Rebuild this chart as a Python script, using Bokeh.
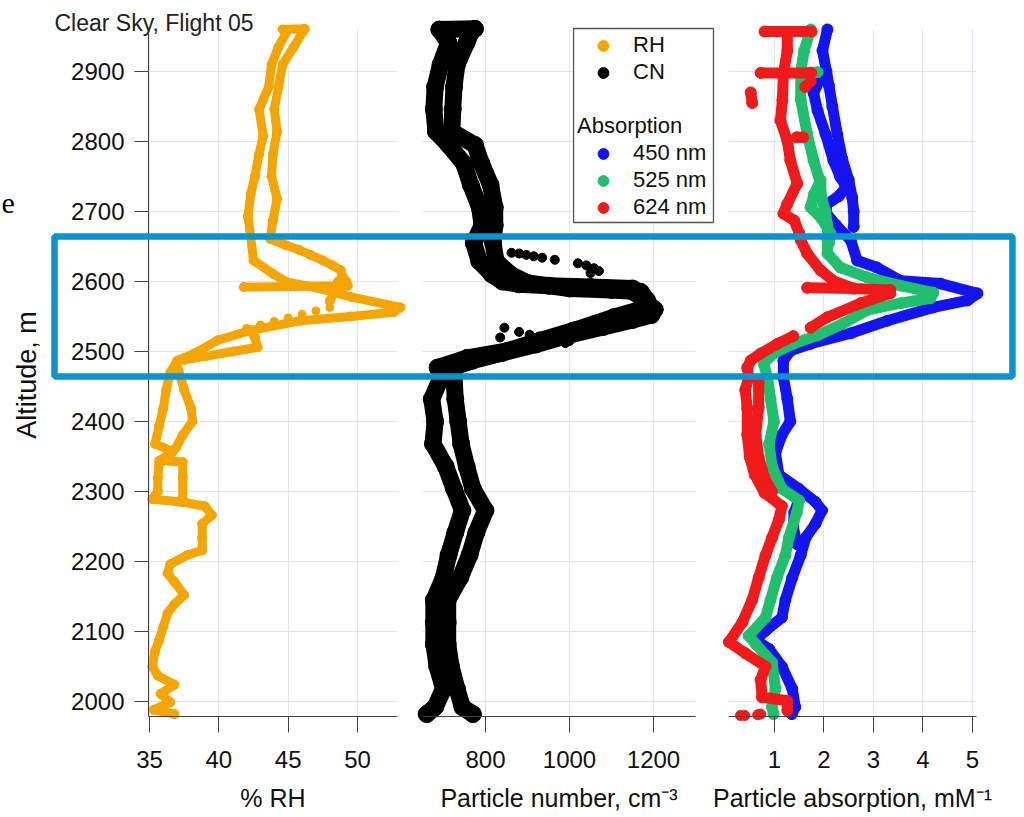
from bokeh.plotting import figure
from bokeh.models import (Range1d, LinearAxis, FixedTicker, Grid, BoxAnnotation,
                          Legend, LegendItem, Label)
from bokeh.embed import file_html
from bokeh.resources import INLINE

# ---------------- data ----------------
alt_ticks = [2000, 2100, 2200, 2300, 2400, 2500, 2600, 2700, 2800, 2900]
rh_ticks = [35, 40, 45, 50]
cn_ticks = [800, 1000, 1200]
abs_ticks = [1, 2, 3, 4, 5]

# RH (%), altitude (m) -- several traced passes
rh_alt = [
    [2961, 2960, 2957, 2935, 2910, 2878, 2846, 2808, 2782, 2750, 2725, 2693, 2663, 2630, 2611,
     2599, 2591, 2578, 2563, 2556, 2550, 2544, 2530, 2516, 2497, 2487, 2470, 2445, 2419, 2394,
     2368, 2357, 2344, 2320, 2300, 2289, 2285, 2279, 2266, 2254, 2234, 2216, 2209, 2196, 2183,
     2171, 2152, 2139, 2126, 2107, 2088, 2072, 2050, 2037, 2024, 2011, 1999, 1988, 1982],
    [2958, 2935, 2910, 2878, 2846, 2814, 2782, 2750, 2718, 2687, 2661, 2652, 2645, 2638, 2630,
     2623, 2616, 2608, 2600, 2594, 2593, 2592],
    [2600, 2585, 2572],
    [2530, 2520, 2506, 2500, 2493, 2488],
    [2480, 2460, 2445, 2419, 2400, 2381, 2362, 2344, 2342, 2320, 2289],
]
rh_val = [
    [46.2, 44.6, 44.9, 44.3, 43.8, 43.6, 42.9, 43.2, 42.9, 42.6, 42.3, 42.1, 42.3, 42.5, 43.9,
     44.9, 47.1, 49.5, 53.1, 52.6, 49.5, 45.9, 42.3, 39.9, 38.2, 37.0, 36.5, 36.2, 36.0, 35.7,
     35.4, 36.7, 35.7, 35.6, 35.6, 35.2, 37.3, 39.0, 39.5, 38.8, 38.8, 38.8, 37.7, 36.5, 36.3,
     36.8, 37.5, 36.8, 36.3, 36.0, 35.7, 35.4, 35.2, 35.6, 36.8, 35.8, 36.5, 35.3, 36.8],
    [46.1, 45.4, 44.6, 44.3, 44.0, 44.2, 43.9, 43.8, 44.2, 43.9, 43.7, 44.8, 45.8, 46.6, 47.5,
     48.2, 48.8, 48.9, 49.2, 49.3, 45.5, 41.8],
    [48.6, 48.3, 48.0],
    [42.3, 42.6, 42.8, 41.0, 39.0, 37.5],
    [37.0, 37.3, 37.5, 38.0, 38.1, 37.4, 36.9, 36.0, 37.4, 37.4, 37.4],
]
rh_dot_alt = [2563, 2558, 2553, 2548, 2543, 2538, 2533]
rh_dot_val = [48.0, 47.0, 46.0, 45.0, 44.0, 43.0, 42.0]

# CN (cm-3): left and right edges of the dense band
cn_alt = [
    [2961, 2960, 2941, 2910, 2878, 2846, 2814, 2795, 2769, 2738, 2706, 2680, 2655, 2629, 2610,
     2600, 2596, 2594, 2592, 2590, 2585, 2573, 2563, 2549, 2530, 2516, 2501, 2491, 2477, 2464,
     2432, 2400, 2368, 2336, 2304, 2273, 2241, 2209, 2177, 2145, 2113, 2082, 2050, 2018, 1992,
     1982],
    [2955, 2941, 2910, 2878, 2846, 2814, 2795, 2769, 2738, 2706, 2680, 2655, 2629, 2610, 2598,
     2590, 2588, 2586, 2575, 2560, 2552, 2545, 2535, 2522, 2510, 2498, 2487, 2475, 2464, 2432,
     2400, 2368, 2336, 2304, 2273, 2241, 2209, 2177, 2145, 2113, 2082, 2050, 2018, 1992, 1982],
]
cn_val = [
    [775, 690, 712, 693, 680, 677, 682, 712, 748, 765, 786, 792, 772, 785, 815,
     840, 880, 950, 1050, 1150, 1170, 1185, 1186, 1105, 1010, 931, 852, 757, 686, 695,
     672, 680, 675, 705, 725, 745, 728, 712, 700, 677, 677, 677, 685, 700, 680,
     660],
    [765, 755, 732, 725, 722, 720, 775, 790, 812, 822, 822, 818, 825, 860, 900,
     1000, 1100, 1150, 1175, 1203, 1195, 1150, 1080, 990, 920, 840, 770, 710, 725, 728,
     735, 742, 755, 770, 800, 778, 762, 740, 710, 710, 710, 718, 732, 745, 770],
]
cn_dot_alt = [2641, 2640, 2638, 2636, 2634, 2631, 2626, 2623, 2619, 2615, 2612,
              2534, 2528, 2524, 2518, 2512, 2508, 2520, 2515]
cn_dot_val = [862, 880, 897, 915, 935, 965, 1020, 1040, 1058, 1070, 1050,
              845, 880, 905, 960, 990, 870, 835, 1000]

# Absorption (Mm-1)
b450_alt = [
    [2960, 2930, 2900, 2880, 2850, 2810, 2775, 2745, 2720, 2700, 2678],
    [2900, 2869, 2844, 2811, 2773, 2749, 2735, 2722, 2710, 2697, 2680, 2659, 2630, 2620, 2601,
     2597, 2583, 2573, 2563, 2544, 2526, 2511, 2501, 2487, 2463, 2432, 2400, 2381, 2355, 2324,
     2304, 2285, 2273, 2254, 2234, 2209, 2177, 2145, 2120, 2101, 2088, 2075, 2050, 2018, 1992,
     1982],
    [2290, 2270, 2250, 2225],
]
b450_val = [
    [2.07, 1.97, 2.05, 2.10, 2.17, 2.27, 2.37, 2.50, 2.57, 2.60, 2.60],
    [1.99, 1.79, 1.87, 2.03, 2.19, 2.33, 2.45, 2.30, 2.05, 2.05, 2.25, 2.54, 2.67, 3.07, 3.55,
     4.35, 5.10, 4.90, 4.21, 3.28, 2.54, 1.73, 1.32, 1.18, 1.18, 1.26, 1.32, 1.15, 1.02, 1.09,
     1.49, 1.83, 1.96, 1.83, 1.63, 1.53, 1.36, 1.22, 1.15, 0.82, 0.62, 0.89, 1.15, 1.36, 1.42,
     1.35],
    [1.50, 1.40, 1.38, 1.45],
]
g525_alt = [
    [2960, 2930, 2900, 2860, 2811, 2773, 2740, 2720, 2700, 2680, 2659, 2640, 2620, 2606, 2594,
     2584, 2576, 2569, 2559, 2540, 2523, 2511, 2497, 2483, 2463, 2432, 2400, 2368, 2336, 2304,
     2287, 2270, 2234, 2209, 2177, 2145, 2120, 2094, 2082, 2056, 2018, 1992, 1982],
    [2745, 2725, 2706, 2690, 2669, 2655],
    [2899, 2899],
]
g525_val = [
    [1.73, 1.60, 1.53, 1.53, 1.66, 1.79, 1.93, 1.95, 2.03, 2.07, 2.07, 2.07, 2.33, 2.87, 3.55,
     4.21, 4.15, 3.55, 2.87, 2.39, 1.87, 1.38, 0.98, 0.78, 0.86, 0.92, 0.99, 0.89, 0.95, 1.15,
     1.50, 1.45, 1.29, 1.22, 1.05, 0.92, 0.82, 0.48, 0.62, 0.95, 1.02, 0.95, 0.98],
    [1.93, 1.80, 1.73, 1.95, 2.13, 2.10],
    [1.53, 1.87],
]
r624_alt = [
    [2956, 2930, 2897, 2859, 2830, 2801, 2773, 2740, 2711, 2697, 2687, 2669, 2659, 2640, 2616,
     2601, 2590, 2588, 2583, 2569, 2549, 2534],
    [2522, 2511, 2497, 2487, 2477, 2463, 2445, 2419, 2381, 2349, 2324, 2298, 2279, 2260, 2234,
     2209, 2177, 2145, 2113, 2085, 2069, 2050, 2031, 2006, 2001, 1987],
    [2591, 2590],
    [2455, 2420, 2381, 2349, 2320, 2300],
    [2957, 2957], [2898, 2898], [2870, 2855], [2886, 2878], [2806, 2806],
]
r624_val = [
    [1.26, 1.26, 1.18, 1.16, 1.12, 1.26, 1.32, 1.46, 1.26, 1.18, 1.40, 1.50, 1.53, 1.66, 1.93,
     2.19, 2.60, 3.34, 3.34, 2.74, 2.07, 1.73],
    [1.38, 1.06, 0.72, 0.52, 0.45, 0.48, 0.41, 0.45, 0.45, 0.50, 0.60, 0.80, 1.15, 1.09, 0.95,
     0.82, 0.68, 0.55, 0.35, 0.08, 0.41, 0.82, 0.72, 0.75, 1.26, 1.26],
    [1.66, 2.60],
    [0.68, 0.68, 0.62, 0.68, 0.80, 0.95],
    [0.80, 1.75], [0.72, 1.74], [0.52, 0.55], [1.73, 1.62], [1.45, 1.58],
]
r624_dot_alt = [1980, 1980, 1981, 1982]
r624_dot_val = [0.31, 0.40, 0.66, 0.72]

# ---------------- styling / layout ----------------
FONT = "Liberation Sans"
W, H = 1020, 815
Y0 = 1978.57              # altitude at the bottom axis line
RH_LEFT = 34.928          # RH value at the left (altitude) axis line
RH_C, CN_C = "#F5A500", "#000000"
B_C, G_C, R_C = "#1414F0", "#20BF6E", "#F01A1A"
GRID_C = "#E3E5EE"
AX_C = "#444444"
TXT_C = "#111111"

# the frame fills the whole canvas; axes sit at fixed locations inside it
p = figure(width=W, height=H,
           x_range=Range1d(24.255, 97.811), y_range=Range1d(1837.14, 3001.43),
           output_backend="svg", toolbar_location=None,
           min_border_left=0, min_border_right=0, min_border_top=0, min_border_bottom=0,
           x_axis_location=None)
p.extra_x_ranges = {"cn": Range1d(-354.76, 2073.81), "abs": Range1d(-14.636, 5.970)}
p.outline_line_color = None
p.background_fill_color = "white"
p.border_fill_color = "white"
p.grid.visible = False

yax = p.yaxis[0]
yax.fixed_location = RH_LEFT
yax.ticker = FixedTicker(ticks=alt_ticks)
yax.bounds = (Y0, 2954)
yax.axis_label = "Altitude, m"
yax.axis_label_text_font = FONT
yax.axis_label_text_font_size = "27px"
yax.axis_label_text_font_style = "normal"
yax.axis_label_text_color = TXT_C
yax.axis_label_standoff = 26
yax.major_label_text_font = FONT
yax.major_label_text_font_size = "24px"
yax.major_label_text_color = TXT_C
yax.major_label_standoff = 10
yax.major_tick_out = 14
yax.major_tick_in = 0
yax.minor_tick_out = 0
yax.minor_tick_in = 0
yax.axis_line_color = AX_C
yax.major_tick_line_color = AX_C


def add_grid(**kw):
    try:
        g = Grid(**kw)
    except AttributeError:
        kw.pop("cross_bounds", None)
        g = Grid(**kw)
    p.add_layout(g)


panels = [
    ("default", rh_ticks, (RH_LEFT, 52.9), "% RH"),
    ("cn", cn_ticks, (650, 1300), "Particle number, cm\u207b\u00b3"),
    ("abs", abs_ticks, (0.07, 5.08), "Particle absorption, mM\u207b\u00b9"),
]
for name, ticks, bnds, label in panels:
    ax = LinearAxis(x_range_name=name, ticker=FixedTicker(ticks=ticks), bounds=bnds,
                    fixed_location=Y0, axis_label=label,
                    axis_label_text_font=FONT, axis_label_text_font_size="25px",
                    axis_label_text_font_style="normal", axis_label_text_color=TXT_C,
                    axis_label_standoff=12,
                    major_label_text_font=FONT, major_label_text_font_size="24px",
                    major_label_text_color=TXT_C, major_label_standoff=19,
                    major_tick_out=16, major_tick_in=0, minor_tick_out=0, minor_tick_in=0,
                    axis_line_color=AX_C, major_tick_line_color=AX_C)
    p.add_layout(ax, "below")
    add_grid(dimension=0, ticker=FixedTicker(ticks=ticks), x_range_name=name,
             grid_line_color=GRID_C, grid_line_width=1, bounds=bnds,
             cross_bounds=(Y0, 2960))
    add_grid(dimension=1, ticker=FixedTicker(ticks=alt_ticks), x_range_name=name,
             grid_line_color=GRID_C, grid_line_width=1, cross_bounds=bnds)


def draw(alt_segs, val_segs, color, lw, rname):
    p.multi_line(xs=val_segs, ys=alt_segs, line_color=color, line_width=lw,
                 line_join="round", line_cap="round", x_range_name=rname)
    xs = [v for seg in val_segs for v in seg]
    ys = [a for seg in alt_segs for a in seg]
    return p.scatter(xs, ys, size=lw, color=color, x_range_name=rname)


rh_r = draw(rh_alt, rh_val, RH_C, 9, "default")
p.scatter(rh_dot_val, rh_dot_alt, size=8, color=RH_C)
cn_r = draw(cn_alt, cn_val, CN_C, 17, "cn")
p.scatter(cn_dot_val, cn_dot_alt, size=9, color=CN_C, x_range_name="cn")
b_r = draw(b450_alt, b450_val, B_C, 11, "abs")
g_r = draw(g525_alt, g525_val, G_C, 11, "abs")
r_r = draw(r624_alt, r624_val, R_C, 11, "abs")
p.scatter(r624_dot_val, r624_dot_alt, size=10, color=R_C, x_range_name="abs")

# highlight box (blue frame across all panels)
p.add_layout(BoxAnnotation(left=28.15, right=97.23, top=2664.3, bottom=2464.3,
                           fill_alpha=0, line_color="#0B93CB", line_alpha=1,
                           line_width=6.5))

# legend frame
p.add_layout(BoxAnnotation(left=65.58, right=75.67, top=2961.4, bottom=2684.3,
                           fill_color="white", fill_alpha=1, line_color="#555555",
                           line_alpha=1, line_width=1.3))

leg_common = dict(border_line_alpha=0, background_fill_alpha=0, padding=4, margin=0,
                  glyph_width=52, glyph_height=27, spacing=0, label_standoff=4,
                  label_text_font=FONT, label_text_font_size="22px",
                  label_text_color=TXT_C)
legA = Legend(items=[LegendItem(label="RH", renderers=[rh_r]),
                     LegendItem(label="CN", renderers=[cn_r])],
              location=(573, 725.5), **leg_common)
legB = Legend(items=[LegendItem(label="450 nm", renderers=[b_r]),
                     LegendItem(label="525 nm", renderers=[g_r]),
                     LegendItem(label="624 nm", renderers=[r_r])],
              title="Absorption", title_text_font=FONT, title_text_font_size="22px",
              title_text_font_style="normal", title_text_color=TXT_C,
              title_standoff=1, location=(573, 590.5), **leg_common)
p.add_layout(legA)
p.add_layout(legB)

p.add_layout(Label(x=28.15, y=2970, text="Clear Sky, Flight 05", text_font=FONT,
                   text_font_size="23px", text_color="#222222", text_baseline="middle",
                   text_align="left"))
# stray letter at the far left edge of the original slide (kept fully visible)
p.add_layout(Label(x=24.33, y=2711.4, text="e", text_font="Liberation Serif",
                   text_font_size="30px", text_color="#000000",
                   text_baseline="alphabetic", text_align="left"))

open("out.html", "w").write(file_html(p, INLINE))
